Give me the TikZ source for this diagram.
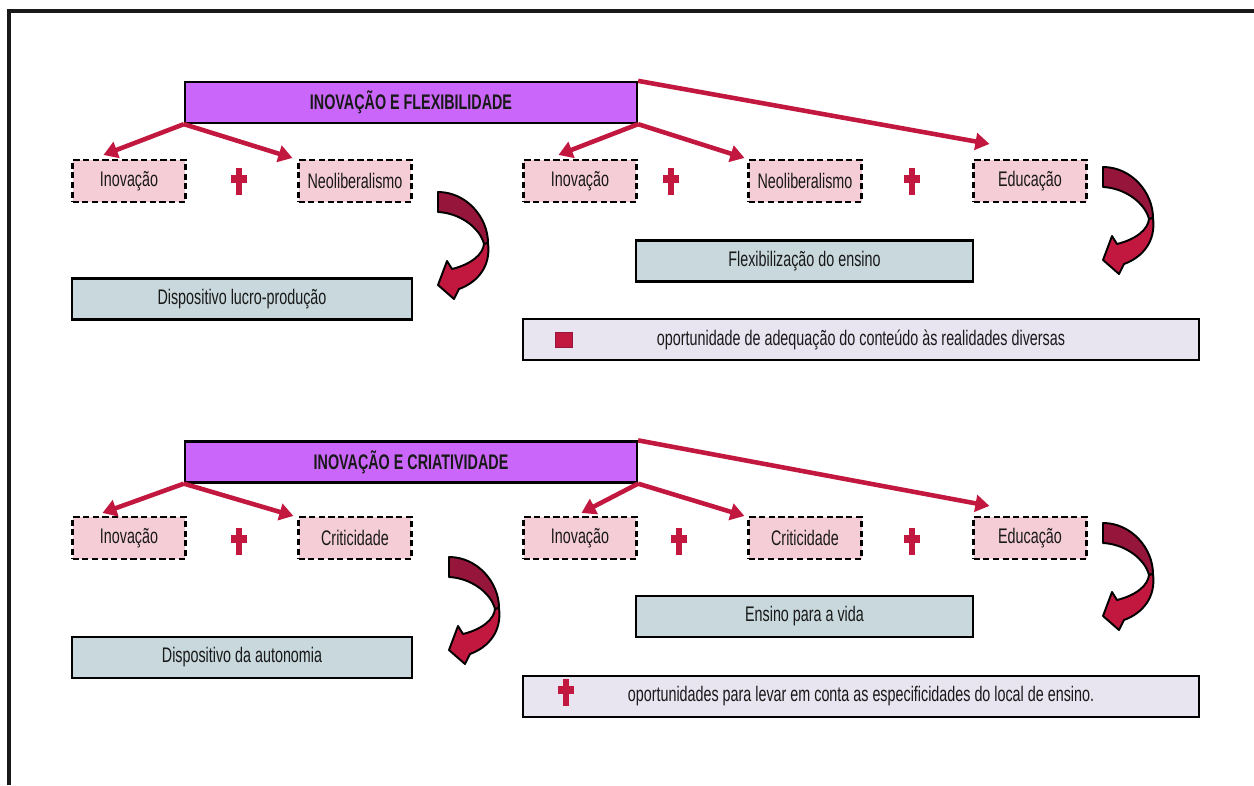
\documentclass[tikz,border=0pt]{standalone}
\usepackage{fontspec}
\setmainfont{Liberation Sans}[FakeStretch=0.68]
\usetikzlibrary{arrows.meta,calc}
\definecolor{crimson}{HTML}{C2183F}
\definecolor{darkcrimson}{HTML}{95163A}
\definecolor{headviolet}{HTML}{CA66FA}
\definecolor{rosebox}{HTML}{F5CDD7}
\definecolor{greybox}{HTML}{C8D8DC}
\definecolor{lilacbox}{HTML}{E8E4F0}
\tikzset{link/.style = {draw=crimson, line width=2.6pt, -{Triangle[length=8pt,width=9.5pt]}}}
\tikzset{bendarrow/.pic = {
    \draw[fill=darkcrimson, line width=1.1pt, line join=round]
      (0,0) .. controls (28,0) and (50,25) .. (50,51) -- (46,52)
      .. controls (42,36) and (22,21) .. (0,20) -- cycle;
    \draw[fill=crimson, line width=1.1pt, line join=round]
      (50,51) .. controls (53,74) and (40,90) .. (21,97)
      -- (16,107) -- (0,93) -- (9,69) -- (14,77)
      .. controls (34,72) and (45,62) .. (46,52) -- cycle;
}}
\tikzset{plussign/.pic = {
    \fill[crimson] (-3,-13) rectangle (3,14);
    \fill[crimson] (-8,-6) rectangle (8,2);
}}

\begin{document}
\begin{tikzpicture}[x=0.02cm, y=-0.02cm]
    \useasboundingbox (0,0) rectangle (1254,785);
    \draw[line width=2pt, black!90] (9,785) -- (9,11) -- (1254,11);
    \begin{scope}[every node/.style={inner sep=0pt, font=\fontsize{12pt}{14pt}\selectfont, text=black!90},
                  headnode/.style={draw, line width=1.3pt, fill=headviolet, minimum width=9.04cm, minimum height=0.82cm, font=\fontsize{12pt}{14pt}\selectfont\bfseries},
                  termnode/.style={draw, dashed, dash pattern=on 3.5pt off 2pt, line width=1.2pt, fill=rosebox, minimum width=2.26cm, minimum height=0.84cm},
                  resultnode/.style={draw, line width=1.6pt, fill=greybox, minimum height=0.82cm},
                  notenode/.style={draw, line width=1.3pt, fill=lilacbox, minimum width=13.52cm, minimum height=0.82cm}]
        \node [headnode] (flex) at (411,102.5) {INOVAÇÃO E FLEXIBILIDADE};
        \node [termnode] (inovA) at (129,181) {Inovação};
        \node [termnode] (neoA) at (355,181) {Neoliberalismo};
        \node [termnode] (inovB) at (580,181) {Inovação};
        \node [termnode] (neoB) at (805,181) {Neoliberalismo};
        \node [termnode] (eduA) at (1030,181) {Educação};
        \node [resultnode, minimum width=6.8cm] (lucro) at (242,299) {Dispositivo lucro-produção};
        \node [resultnode, minimum width=6.74cm] (flexens) at (804.5,261) {Flexibilização do ensino};
        \node [notenode] (adeq) at (861,339.5) {oportunidade de adequação do conteúdo às realidades diversas};

        \node [headnode] (criat) at (411,462) {INOVAÇÃO E CRIATIVIDADE};
        \node [termnode] (inovC) at (129,538) {Inovação};
        \node [termnode] (critA) at (355,538) {Criticidade};
        \node [termnode] (inovD) at (580,538) {Inovação};
        \node [termnode] (critB) at (805,538) {Criticidade};
        \node [termnode] (eduB) at (1030,538) {Educação};
        \node [resultnode, minimum width=6.8cm] (auton) at (242,657.5) {Dispositivo da autonomia};
        \node [resultnode, minimum width=6.74cm] (vida) at (804.5,616.5) {Ensino para a vida};
        \node [notenode] (espec) at (861,696.5) {oportunidades para levar em conta as especificidades do local de ensino.};
    \end{scope}
    \begin{scope}[every edge/.style={link}]
        \path (flex.south west) edge ($(inovA.north west)+(32,-4)$);
        \path (flex.south west) edge ($(neoA.north west)+(-5,-1)$);
        \path (flex.south east) edge ($(inovB.north west)+(36,-4)$);
        \path (flex.south east) edge ($(neoB.north west)+(-3,-1)$);
        \path (flex.north east) edge ($(eduA.north west)+(17,-15)$);
        \path (criat.south west) edge ($(inovC.north west)+(31,-3)$);
        \path (criat.south west) edge ($(critA.north west)+(-4,0)$);
        \path (criat.south east) edge ($(inovD.north west)+(59,-3)$);
        \path (criat.south east) edge ($(critB.north west)+(-3,0)$);
        \path (criat.north east) edge ($(eduB.north west)+(17,-10)$);
    \end{scope}
    \pic at (239,181) {plussign};
    \pic at (671,181) {plussign};
    \pic at (912,181) {plussign};
    \pic at (239,541) {plussign};
    \pic at (679,541) {plussign};
    \pic at (912,541) {plussign};
    \pic at (566,692) {plussign};
    \fill[crimson, draw=darkcrimson, line width=0.4pt] (555,332) rectangle (572,347);
    \pic at (438,192) {bendarrow};
    \pic at (1103,167) {bendarrow};
    \pic at (449,557) {bendarrow};
    \pic at (1103,523) {bendarrow};
\end{tikzpicture}
\end{document}
